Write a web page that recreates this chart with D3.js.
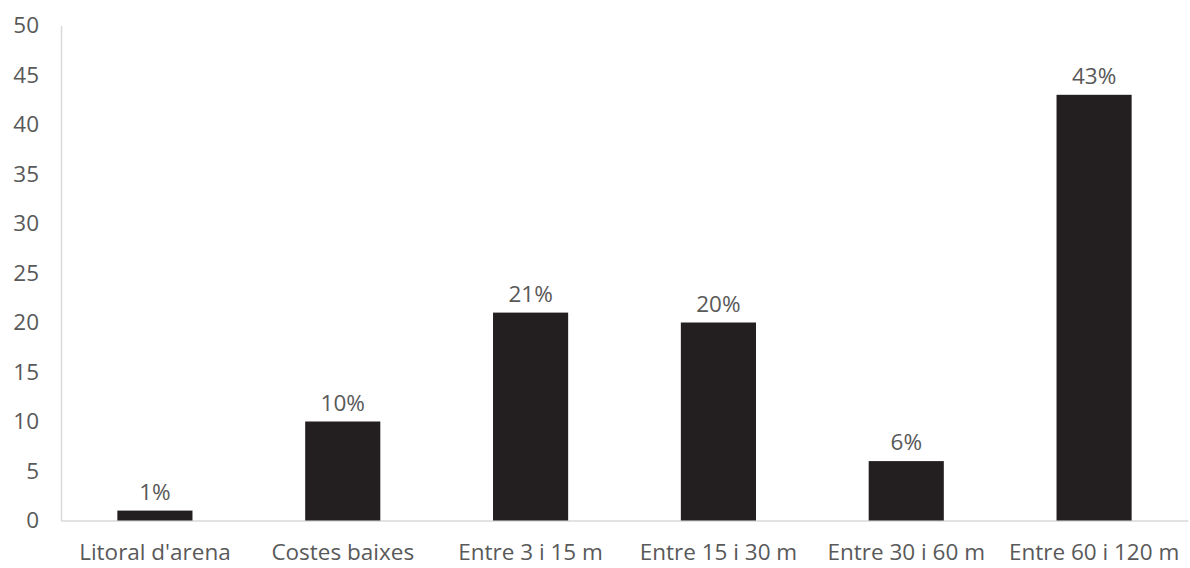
<!DOCTYPE html>
<html>
<head>
<meta charset="utf-8">
<script src="https://cdn.jsdelivr.net/npm/d3@7"></script>
<style>
  html, body { margin: 0; padding: 0; background: #fff; }
  svg text { font-family: "Open Sans", "Noto Sans", sans-serif; fill: #595959; }
</style>
</head>
<body>
<svg id="chart" width="1190" height="568"></svg>
<script>
// Share of area by depth zone
const categories = ["Litoral d'arena", "Costes baixes", "Entre 3 i 15 m", "Entre 15 i 30 m", "Entre 30 i 60 m", "Entre 60 i 120 m"];
const values = [1, 10, 21, 20, 6, 43];
const yTicks = [0, 5, 10, 15, 20, 25, 30, 35, 40, 45, 50];

const svg = d3.select("#chart");
const margin = { left: 61, right: 2, top: 25.5, bottom: 47.5 };
const W = 1190, H = 568;
const fontSize = "22.5px";

const x = d3.scaleBand()
  .domain(categories)
  .range([margin.left, W - margin.right])
  .paddingInner(0.6)
  .paddingOuter(0.3);

const y = d3.scaleLinear()
  .domain([0, 50])
  .range([H - margin.bottom, margin.top]);

// Y axis: labels only, with a light vertical rule
const yAxis = svg.append("g")
  .attr("transform", `translate(${margin.left},0)`)
  .call(d3.axisLeft(y).tickValues(yTicks).tickSize(0).tickPadding(22).tickFormat(d3.format("d")));
yAxis.select(".domain").attr("stroke", "#d9d9d9").attr("stroke-width", 1.5);
yAxis.selectAll("text").style("font-size", fontSize).attr("fill", "#595959");

// X axis baseline and category labels
const xAxis = svg.append("g")
  .attr("transform", `translate(0,${y(0)})`)
  .call(d3.axisBottom(x).tickSize(0).tickPadding(24).tickSizeOuter(0));
xAxis.select(".domain").attr("stroke", "#d9d9d9").attr("stroke-width", 1.5);
xAxis.selectAll("text").style("font-size", fontSize).attr("fill", "#595959");

// Bars
svg.append("g").selectAll("rect")
  .data(values)
  .join("rect")
  .attr("x", (d, i) => x(categories[i]))
  .attr("width", x.bandwidth())
  .attr("y", d => y(d))
  .attr("height", d => y(0) - y(d))
  .attr("fill", "#231f20");

// Value labels
svg.append("g").selectAll("text")
  .data(values)
  .join("text")
  .attr("x", (d, i) => x(categories[i]) + x.bandwidth() / 2)
  .attr("y", d => y(d) - 11)
  .attr("text-anchor", "middle")
  .style("font-size", fontSize)
  .text(d => d + "%");
</script>
</body>
</html>
